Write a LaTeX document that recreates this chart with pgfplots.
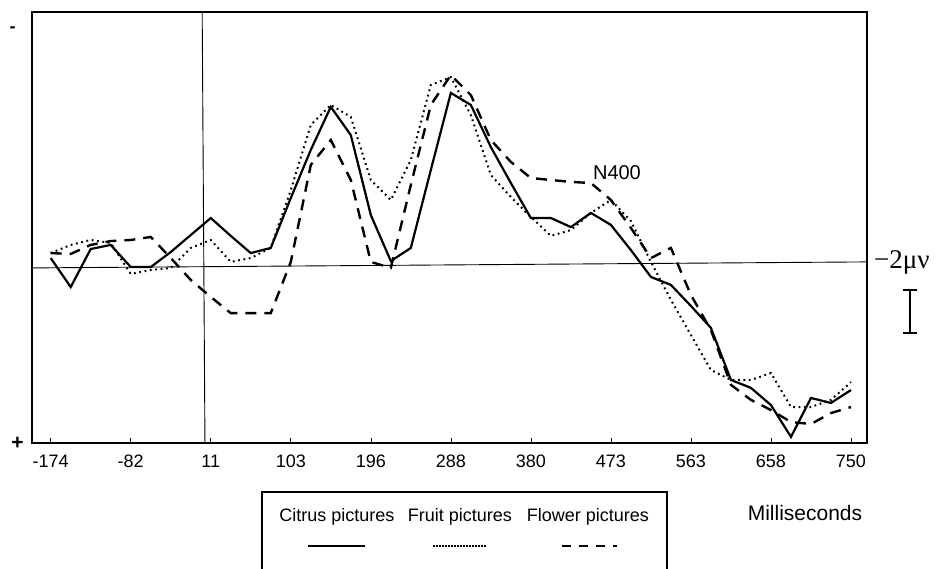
\documentclass[border=0pt]{standalone}
\usepackage{pgfplots}
\pgfplotsset{compat=1.18}
\usepackage{pgfplotstable}
\usepackage{fontspec}
\setmainfont{Liberation Sans}
\newfontfamily\seriffont{Liberation Serif}

\pgfplotstableread{
x      c      f      w
-174.0  0.37   0.60   0.60
-150.9 -0.98   0.98   0.56
-127.8  0.79   1.21   0.98
-104.7  0.98   1.07   1.16
-81.6  -0.05  -0.37   1.21
-58.5  -0.05  -0.19   1.35
-35.4   0.65  -0.09   0.37
-12.3   1.44   0.84  -0.65
10.8    2.23   1.21  -1.44
33.9    1.40   0.19  -2.19
57.0    0.60   0.37  -2.19
80.1    0.84   0.84  -2.19
103.2   3.16   3.53   0.19
126.3   5.40   6.56   4.70
149.4   7.40   7.49   5.86
172.5   6.09   6.93   4.00
195.6   2.37   4.00   0.19
218.7   0.23   3.07  -0.09
241.8   0.84   4.93   3.77
264.9   4.47   8.42   7.49
288.0   8.05   8.79   8.88
311.1   7.49   7.02   7.95
334.2   5.53   4.23   5.86
357.3   3.86   3.21   4.84
380.4   2.23   2.28   4.09
403.5   2.23   1.40   4.00
426.6   1.81   1.67   3.91
449.7   2.47   2.47   3.86
472.8   1.91   3.07   3.07
495.9   0.74   2.09   1.77
519.0  -0.51   0.19   0.37
542.1  -0.88  -1.58   0.84
565.2  -1.86  -3.21  -1.35
588.3  -2.88  -4.84  -2.98
611.4  -5.30  -5.30  -5.53
634.5  -5.67  -5.30  -6.23
657.6  -6.47  -4.98  -6.70
680.7  -7.95  -6.56  -7.26
703.8  -6.14  -6.56  -7.35
726.9  -6.37  -6.23  -6.84
750.0  -5.77  -5.40  -6.56
}\erpdata

\begin{document}
\begin{tikzpicture}[x=1pt,y=1pt]
\path[use as bounding box] (0,0) rectangle (941,569);
\begin{axis}[
  at={(32pt,126pt)}, anchor=south west,
  width=835pt, height=431pt, scale only axis,
  xmin=-195.6, xmax=768.5, ymin=-8.233, ymax=11.814,
  axis line style={line width=1.8pt},
  xtick={-174,-81.6,10.8,103.2,195.6,288,380.4,472.8,565.2,657.6,750},
  xticklabels={-174,-82,11,103,196,288,380,473,563,658,750},
  ytick=\empty,
  xtick pos=bottom, tick align=inside, major tick length=5pt,
  tick style={line width=0.6pt, black},
  xticklabel style={font=\fontsize{18}{20}\selectfont, anchor=north, inner sep=0pt, yshift=-12pt},
]
\draw[line width=0.9pt] (axis cs:-195.6,-0.09) -- (axis cs:768.5,0.19);
\draw[line width=0.9pt] (axis cs:0.9,11.814) -- (axis cs:4.1,-8.233);
\addplot[black, line width=2.2pt] table[x=x,y=c] {\erpdata};
\addplot[black, line width=2pt, dash pattern=on 1.8pt off 3.6pt] table[x=x,y=f] {\erpdata};
\addplot[black, line width=2.4pt, dash pattern=on 11pt off 8pt] table[x=x,y=w] {\erpdata};
\node[font=\fontsize{20}{22}\selectfont, inner sep=0pt] at (axis cs:479.8,4.33) {N400};
\end{axis}
% side marks
\node[font=\fontsize{18}{20}\selectfont\bfseries, inner sep=0pt] at (12.7,539) {-};
\node[font=\fontsize{21}{23}\selectfont\bfseries, inner sep=0pt] at (17.5,126) {+};
% scale label and bar
\node[font=\seriffont\fontsize{27}{29}\selectfont, anchor=west, inner sep=0pt] at (874,307) {−2μν};
\draw[line width=1.3pt] (910,279) -- (910,236);
\draw[line width=1.3pt] (903,279) -- (917,279);
\draw[line width=1.3pt] (903,236) -- (917,236);
% legend box
\draw[line width=1.2pt] (262,0) -- (262,77) -- (667,77) -- (667,0);
\node[font=\fontsize{18}{20}\selectfont, inner sep=0pt] at (337,52) {Citrus pictures};
\node[font=\fontsize{18}{20}\selectfont, inner sep=0pt] at (460,52) {Fruit pictures};
\node[font=\fontsize{18}{20}\selectfont, inner sep=0pt] at (588,52) {Flower pictures};
\draw[line width=2.4pt] (308,23) -- (365,23);
\draw[line width=1.6pt, dash pattern=on 1.5pt off 1.5pt] (433,23) -- (487,23);
\draw[line width=2.4pt, dash pattern=on 9pt off 8pt] (562,23) -- (617,23);
\node[font=\fontsize{21}{23}\selectfont, inner sep=0pt] at (805,56) {Milliseconds};
\end{tikzpicture}
\end{document}
